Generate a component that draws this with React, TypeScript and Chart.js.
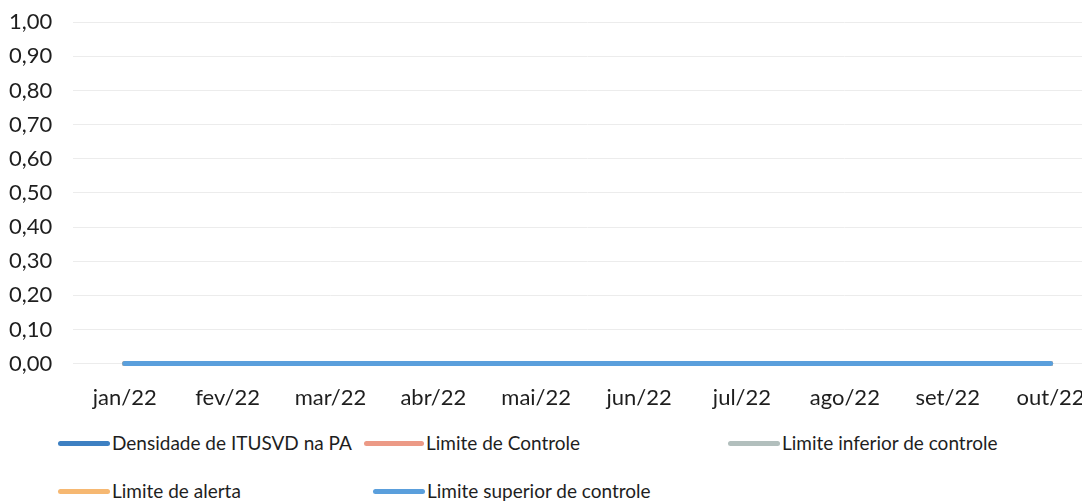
import React, { useEffect, useRef } from "react";
import { Chart, registerables } from "chart.js";

Chart.register(...registerables);

const months = ["jan/22", "fev/22", "mar/22", "abr/22", "mai/22", "jun/22", "jul/22", "ago/22", "set/22", "out/22"];
const densidade = [0, 0, 0, 0, 0, 0, 0, 0, 0, 0];
const limiteControle = [0, 0, 0, 0, 0, 0, 0, 0, 0, 0];
const limiteInferior = [0, 0, 0, 0, 0, 0, 0, 0, 0, 0];
const limiteAlerta = [0, 0, 0, 0, 0, 0, 0, 0, 0, 0];
const limiteSuperior = [0, 0, 0, 0, 0, 0, 0, 0, 0, 0];

const seriesNames = [
  "Densidade de ITUSVD na PA",
  "Limite de Controle",
  "Limite inferior de controle",
  "Limite de alerta",
  "Limite superior de controle",
];
const seriesColors = ["#3d80c2", "#ec9a86", "#b2bfbd", "#f6b872", "#5a9fdc"];

const FONT = "Lato, Carlito, 'Open Sans', sans-serif";

const legendPos = [
  { left: 58, top: 431, w: 52, text: 0 },
  { left: 364, top: 431, w: 60, text: 1 },
  { left: 728, top: 431, w: 52, text: 2 },
  { left: 58, top: 479, w: 52, text: 3 },
  { left: 373, top: 479, w: 52, text: 4 },
];

export default function App() {
  const ref = useRef<HTMLCanvasElement | null>(null);
  useEffect(() => {
    document.body.style.margin = "0";
    if (!ref.current) return;
    const data = [densidade, limiteControle, limiteInferior, limiteAlerta, limiteSuperior];
    const chart = new Chart(ref.current, {
      type: "line",
      data: {
        labels: months,
        datasets: data.map((d, i) => ({
          label: seriesNames[i],
          data: d,
          order: data.length - 1 - i,
          borderColor: seriesColors[i],
          backgroundColor: seriesColors[i],
          borderWidth: 5,
          pointRadius: 0,
          clip: false as any,
          borderCapStyle: "round" as const,
        })),
      },
      options: {
        animation: false,
        responsive: false,
        maintainAspectRatio: false,
        layout: { padding: { left: 10, top: 11, right: 0, bottom: 0 } },
        plugins: { legend: { display: false }, tooltip: { enabled: false } },
        scales: {
          x: {
            offset: true,
            grid: { display: false },
            border: { display: false },
            ticks: { color: "#1e1e1e", font: { family: FONT, size: 22 }, padding: 13, maxRotation: 0 },
          },
          y: {
            min: 0,
            max: 1,
            grid: { color: "#ececec", drawTicks: false, lineWidth: 1 },
            border: { display: false },
            ticks: {
              stepSize: 0.1,
              color: "#1e1e1e",
              font: { family: FONT, size: 22 },
              padding: 21,
              callback: (v: any) => Number(v).toFixed(2).replace(".", ","),
            },
          },
        },
      },
    });
    return () => chart.destroy();
  }, []);

  return (
    <div style={{ position: "relative", width: 1082, height: 502, overflow: "hidden", background: "#fff", fontFamily: FONT }}>
      <canvas ref={ref} width={1124} height={436} style={{ position: "absolute", left: -22, top: -12 }} />
      {legendPos.map((p, i) => (
        <div key={i} style={{ position: "absolute", left: p.left, top: p.top, display: "flex", alignItems: "center", whiteSpace: "nowrap" }}>
          <span style={{ display: "inline-block", width: p.w, height: 5, borderRadius: 3, background: seriesColors[p.text], marginRight: 2 }} />
          <span style={{ fontSize: 19, color: "#1e1e1e", lineHeight: "24px" }}>{seriesNames[p.text]}</span>
        </div>
      ))}
    </div>
  );
}
